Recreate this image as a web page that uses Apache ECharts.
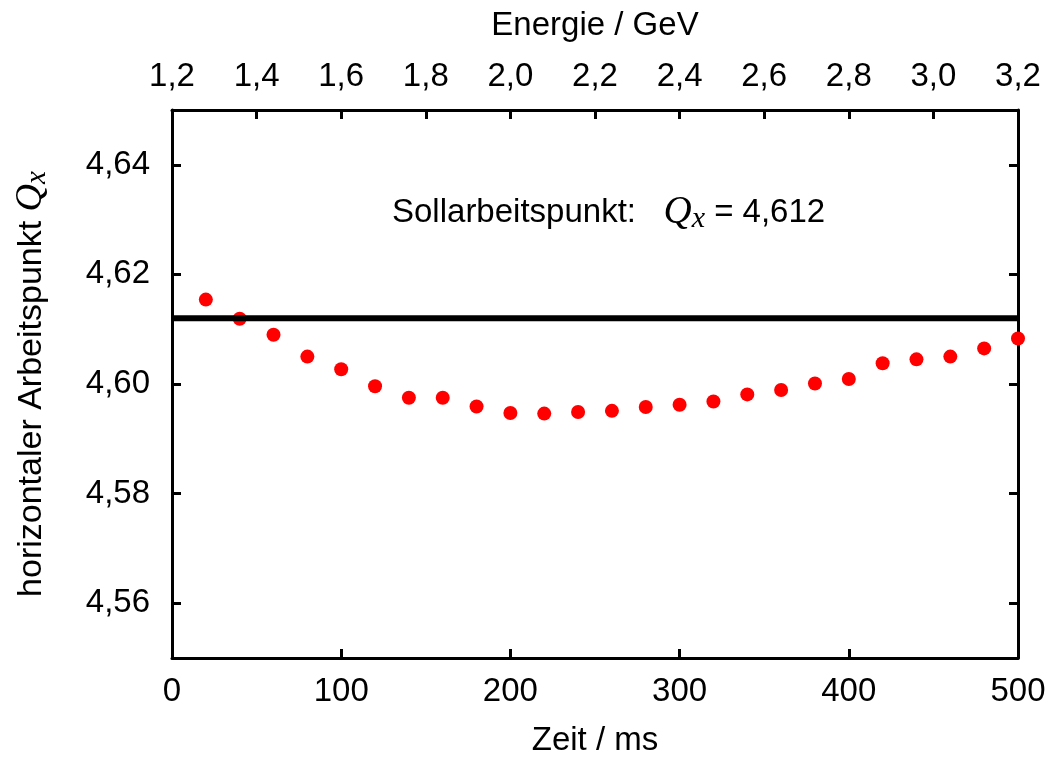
<!DOCTYPE html>
<html>
<head>
<meta charset="utf-8">
<script src="https://cdn.jsdelivr.net/npm/echarts@6/dist/echarts.min.js"></script>
<style>html,body{margin:0;padding:0;background:#fff}#c{width:1055px;height:762px}</style>
</head>
<body>
<div id="c"></div>
<script>
const timesMs = [20,40,60,80,100,120,140,160,180,200,220,240,260,280,300,320,340,360,380,400,420,440,460,480,500];
const tuneQx = [4.6154,4.6119,4.6090,4.6050,4.6027,4.5996,4.5975,4.5975,4.5959,4.5947,4.5946,4.5949,4.5951,4.5958,4.5962,4.5968,4.5981,4.5989,4.6001,4.6009,4.6038,4.6045,4.6050,4.6065,4.6083];
const targetQx = 4.612;
const yTicks = [4.56,4.58,4.60,4.62,4.64];
const xRange = [0,500];
const energyRange = [1.2,3.2];

const FONT = 'Liberation Sans';
const FS = 33;
const axisLine = {show:true, onZero:false, lineStyle:{color:'#000', width:3}};
const tick = {show:true, inside:true, length:9, lineStyle:{color:'#000', width:3}};
const comma = (v, d) => v.toFixed(d).replace('.', ',');

const chart = echarts.init(document.getElementById('c'), null, {renderer:'canvas'});
chart.setOption({
  backgroundColor:'#fff',
  animation:false,
  grid:{left:172, right:37, top:110, bottom:103},
  xAxis:[
    {type:'value', position:'bottom', min:xRange[0], max:xRange[1], interval:100,
     axisLine:axisLine, axisTick:tick, splitLine:{show:false},
     axisLabel:{color:'#000', fontFamily:FONT, fontSize:FS, margin:17},
     name:'Zeit / ms', nameLocation:'middle', nameGap:66,
     nameTextStyle:{color:'#000', fontFamily:FONT, fontSize:FS}},
    {type:'value', position:'top', min:energyRange[0], max:energyRange[1], interval:0.2,
     axisLine:axisLine, axisTick:tick, splitLine:{show:false},
     axisLabel:{color:'#000', fontFamily:FONT, fontSize:FS, margin:17, formatter:v=>comma(v,1)},
     name:'Energie / GeV', nameLocation:'middle', nameGap:68,
     nameTextStyle:{color:'#000', fontFamily:FONT, fontSize:FS}},
  ],
  yAxis:[
    {type:'value', position:'left', min:4.55, max:4.65,
     axisLine:axisLine, axisTick:Object.assign({customValues:yTicks}, tick), splitLine:{show:false},
     axisLabel:{color:'#000', fontFamily:FONT, fontSize:FS, margin:22, customValues:yTicks, formatter:v=>comma(v,2)},
     name:'{t|horizontaler Arbeitspunkt }{q|Q}{s|x}', nameLocation:'middle', nameGap:120, nameRotate:90,
     nameTextStyle:{color:'#000', fontFamily:FONT, fontSize:FS,
       rich:{t:{fontFamily:FONT, fontSize:FS+1, color:'#000'},
             q:{fontFamily:'Liberation Serif', fontStyle:'italic', fontSize:FS+5, color:'#000'},
             s:{fontFamily:'Liberation Serif', fontStyle:'italic', fontSize:FS-4, color:'#000', padding:[12,0,0,0]}}}},
    {type:'value', position:'right', min:4.55, max:4.65,
     axisLine:axisLine, axisTick:Object.assign({customValues:yTicks}, tick), splitLine:{show:false},
     axisLabel:{show:false}}
  ],
  graphic:[{
    type:'text', left:392, top:193, z:100,
    style:{
      text:'{a|Sollarbeitspunkt:   }{q|Q}{s|x}{a| = 4,612}',
      rich:{a:{fontFamily:FONT, fontSize:FS, fill:'#000', color:'#000'},
            q:{fontFamily:'Liberation Serif', fontStyle:'italic', fontSize:FS+6, fill:'#000', color:'#000'},
            s:{fontFamily:'Liberation Serif', fontStyle:'italic', fontSize:FS-3, fill:'#000', color:'#000', padding:[14,0,0,0]}}
    }
  }],
  series:[
    {type:'scatter', xAxisIndex:0, yAxisIndex:0, clip:false, z:2,
     data: timesMs.map((t,i)=>[t, tuneQx[i]]),
     symbol:'circle', symbolSize:14, itemStyle:{color:'#ff0000', opacity:1}},
    {type:'line', xAxisIndex:0, yAxisIndex:0, z:3, symbol:'none', silent:true,
     data:[[xRange[0], targetQx],[xRange[1], targetQx]],
     lineStyle:{color:'#000', width:6}}
  ]
});
</script>
</body>
</html>
